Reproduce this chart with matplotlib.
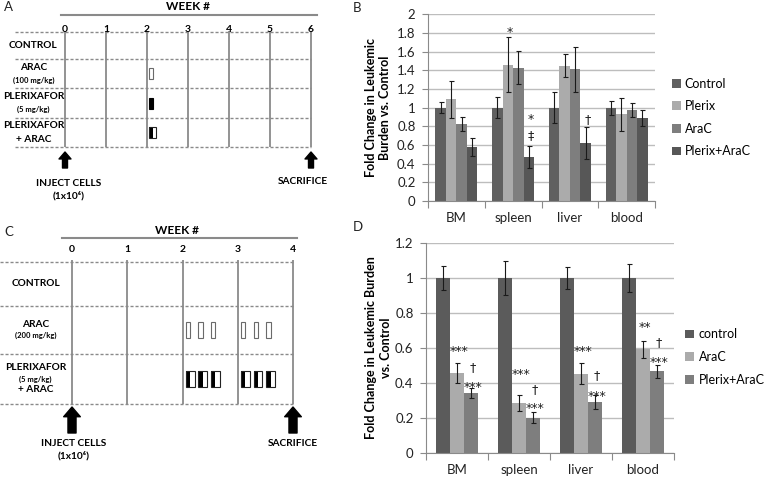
import matplotlib.pyplot as plt
from matplotlib.patches import Rectangle
import numpy as np

plt.rcParams['font.family'] = ['Lato', 'DejaVu Sans']

W, H = 767, 478

# schedule A (weeks, groups, dosing days after injection)
weeks_a = [0, 1, 2, 3, 4, 5, 6]
rows_a = [['CONTROL'], ['ARAC', '(100 mg/kg)'], ['PLERIXAFOR', '(5 mg/kg)'],
          ['PLERIXAFOR', '+ ARAC']]
treat_a = [None, 'arac', 'plerix', 'combo']
dose_days_a = [14.4]

# schedule C
weeks_c = [0, 1, 2, 3, 4]
rows_c = [['CONTROL'], ['ARAC', '(200 mg/kg)'], ['PLERIXAFOR', '(5 mg/kg)', '+ ARAC']]
treat_c = [None, 'arac', 'combo']
dose_days_c = [14.4, 16.0, 17.6, 21.4, 23.0, 24.6]

# panel B
organs = ['BM', 'spleen', 'liver', 'blood']
series_b = ['Control', 'Plerix', 'AraC', 'Plerix+AraC']
mean_b = [[1.0, 1.0, 1.0, 1.0],
          [1.09, 1.46, 1.45, 0.93],
          [0.82, 1.43, 1.41, 0.98],
          [0.58, 0.47, 0.62, 0.89]]
err_b = [[0.06, 0.115, 0.165, 0.075],
         [0.2, 0.295, 0.125, 0.175],
         [0.075, 0.175, 0.245, 0.075],
         [0.1, 0.12, 0.175, 0.09]]
# (organ, series, y, symbol)
marks_b = [(1, 1, 1.85, '*'), (1, 3, 0.91, '*'), (1, 3, 0.71, '‡'), (2, 3, 0.88, '†')]

# panel D
series_d = ['control', 'AraC', 'Plerix+AraC']
mean_d = [[1.0, 1.0, 1.0, 1.0],
          [0.457, 0.282, 0.45, 0.59],
          [0.341, 0.2, 0.288, 0.465]]
err_d = [[0.068, 0.096, 0.062, 0.081],
         [0.058, 0.046, 0.06, 0.05],
         [0.028, 0.032, 0.04, 0.038]]
marks_d = [(0, 1, 0.60, '***'), (0, 2, 0.486, '†'), (0, 2, 0.392, '***'),
           (1, 1, 0.467, '***'), (1, 2, 0.364, '†'), (1, 2, 0.272, '***'),
           (2, 1, 0.60, '***'), (2, 2, 0.442, '†'), (2, 2, 0.345, '***'),
           (3, 1, 0.735, '**'), (3, 2, 0.634, '†'), (3, 2, 0.535, '***')]

colors_b = ['#606060', '#ababab', '#7e7e7e', '#575757']
colors_d = ['#5b5b5b', '#ababab', '#7e7e7e']
grey = '#8a8a8a'

fig = plt.figure(figsize=(W / 100, H / 100), dpi=100)


def add_px_axes(x0, y0, x1, y1):
    return fig.add_axes([x0 / W, 1 - y1 / H, (x1 - x0) / W, (y1 - y0) / H])


def draw_schedule(ax, weeks, rows, treat, dose_days, lay):
    # x axis in weeks, y axis in pixels
    ax.axis('off')
    ax.text(lay['title_x'], lay['title_y'], 'WEEK #', ha='center', va='center',
            size=8.5, weight='bold')
    ax.plot(lay['line_x'], [lay['line_y']] * 2, color=grey, lw=1.5)
    edges = lay['edges']
    for w in weeks:
        ax.text(w, lay['num_y'], str(w), ha='center', va='center', size=7.5, weight='bold')
    ax.vlines(weeks, lay['vtop'], edges[-1], color=grey, lw=1.3)
    ax.hlines(edges, lay['dash_x0'], weeks[-1], color=grey, lw=1,
              linestyles=(0, (2.2, 1.4)))
    for i, lines in enumerate(rows):
        yc = (edges[i] + edges[i + 1]) / 2
        n = len(lines)
        for j, t in enumerate(lines):
            yy = yc + (j - (n - 1) / 2) * lay['lgap']
            ax.text(lay['label_x'], yy, t, ha='center', va='center', weight='bold',
                    size=5.5 if t.startswith('(') else 7.3)
        if treat[i] is None:
            continue
        bw = lay['box_w'] * (lay['combo_k'] if treat[i] == 'combo' else 1)
        bh = lay['box_h']
        for d in dose_days:
            x0 = d / 7
            y0 = yc - bh / 2
            if treat[i] == 'arac':
                ax.add_patch(Rectangle((x0, y0), bw, bh, fc='white', ec='#6a6a6a', lw=0.8))
            elif treat[i] == 'plerix':
                ax.add_patch(Rectangle((x0, y0), bw, bh, fc='black', ec='black', lw=0.8))
            else:
                ax.add_patch(Rectangle((x0, y0), bw / 2, bh, fc='black', lw=0))
                ax.add_patch(Rectangle((x0, y0), bw, bh, fill=False, ec='#222222', lw=0.8))
    style = 'simple,head_length=%g,head_width=%g,tail_width=%g' % lay['arrow']
    for w in [weeks[0], weeks[-1]]:
        ax.annotate('', xy=(w, lay['arrow_tip']), xytext=(w, lay['arrow_tail']),
                    arrowprops=dict(arrowstyle=style, mutation_scale=1, color='black',
                                    shrinkA=0, shrinkB=0))
    ax.text(lay['inject_x'], lay['inject_y'], 'INJECT CELLS', ha='center', va='center',
            size=7.3, weight='bold')
    ax.text(lay['inject_x'], lay['inject_y'] + 12.5, '(1x10⁶)', ha='center', va='center',
            size=7.3, weight='bold')
    ax.text(lay['sac_x'], lay['sac_y'], 'SACRIFICE', ha='center', va='center',
            size=7.3, weight='bold')


# panel A: week 0 at 65 px, 41 px per week
axA = add_px_axes(0, 0, 345, 215)
axA.set_xlim(-65 / 41, 280 / 41)
axA.set_ylim(215, 0)
draw_schedule(axA, weeks_a, rows_a, treat_a, dose_days_a, dict(
    title_x=3.0, title_y=6, line_x=[-0.1, 6.15], line_y=15, num_y=29.5, vtop=31,
    edges=[32, 59, 88, 118, 147], dash_x0=-1.22, label_x=-0.77, lgap=13,
    box_w=0.098, combo_k=1.75, box_h=11, arrow=(5, 8.6, 3.6), arrow_tip=152,
    arrow_tail=168, inject_x=0.1, inject_y=183.5, sac_x=5.8, sac_y=181))

# panel C: week 0 at 72 px, 55.25 px per week
axC = add_px_axes(0, 225, 345, 478)
axC.set_xlim(-72 / 55.25, 273 / 55.25)
axC.set_ylim(478, 225)
draw_schedule(axC, weeks_c, rows_c, treat_c, dose_days_c, dict(
    title_x=1.9, title_y=231, line_x=[-0.18, 4.07], line_y=238, num_y=250, vtop=260,
    edges=[262, 306, 354, 404], dash_x0=-1.3, label_x=-0.66, lgap=11,
    box_w=0.081, combo_k=2.0, box_h=16, arrow=(7, 12, 5.8), arrow_tip=407,
    arrow_tail=433, inject_x=0.03, inject_y=443.5, sac_x=3.99, sac_y=443.5))


def style_bars(ax, ymax):
    ax.set_xlim(-0.5, len(organs) - 0.5)
    ax.set_ylim(0, ymax)
    ticks = np.round(np.arange(0, ymax + 0.01, 0.2), 1)
    ax.set_yticks(ticks)
    ax.set_yticklabels(['%g' % t for t in ticks])
    ax.yaxis.grid(True, color='#bdbdbd', lw=1)
    ax.set_axisbelow(True)
    ax.set_xticks(np.arange(-0.5, len(organs)))
    ax.set_xticklabels([''] * (len(organs) + 1))
    ax.set_xticks(np.arange(len(organs)), minor=True)
    ax.set_xticklabels(organs, minor=True)
    ax.tick_params(axis='x', which='major', length=5, color=grey)
    ax.tick_params(axis='x', which='minor', length=0, pad=8, labelsize=9.5,
                   labelcolor='#222222')
    ax.tick_params(axis='y', length=4, pad=5, color=grey, labelsize=9.5,
                   labelcolor='#222222')
    for s in ['top', 'right']:
        ax.spines[s].set_visible(False)
    for s in ['left', 'bottom']:
        ax.spines[s].set_color(grey)


def add_marks(ax, marks, width, nser):
    for g, s, y, t in marks:
        x = g + (s - (nser - 1) / 2) * width
        dy = -5.3 if '*' in t else -2.8
        ax.annotate(t, (x, y), xytext=(1.5, dy), textcoords='offset points',
                    ha='center', va='baseline', size=9, color='#222222',
                    family='DejaVu Sans')


ekw = dict(ecolor='#1a1a1a', elinewidth=0.8, capsize=1.8, capthick=0.8)
x = np.arange(len(organs))

# panel B
axB = add_px_axes(428, 14.3, 655, 201)
wb = 0.185
for i, name in enumerate(series_b):
    axB.bar(x + (i - 1.5) * wb, mean_b[i], wb, yerr=err_b[i], color=colors_b[i],
            label=name, error_kw=ekw, zorder=2)
style_bars(axB, 2.0)
add_marks(axB, marks_b, wb, len(series_b))
axB.set_ylabel('Fold Change in Leukemic\nBurden vs. Control', size=9, weight='bold',
               linespacing=1.2)
axB.yaxis.set_label_coords(-0.163, 0.5)
axB.legend(loc='center left', bbox_to_anchor=(672 / W, 1 - 117.5 / H),
           bbox_transform=fig.transFigure, frameon=False, fontsize=9,
           handlelength=0.7, handleheight=0.7, handletextpad=0.3, labelspacing=0.85,
           borderpad=0, borderaxespad=0)

# panel D
axD = add_px_axes(426, 242.7, 674, 452.7)
wd = 0.224
for i, name in enumerate(series_d):
    axD.bar(x + (i - 1) * wd, mean_d[i], wd, yerr=err_d[i], color=colors_d[i],
            label=name, error_kw=ekw, zorder=2)
style_bars(axD, 1.2)
add_marks(axD, marks_d, wd, len(series_d))
axD.set_ylabel('Fold Change in Leukemic Burden\nvs. Control', size=9, weight='bold',
               linespacing=1.35)
axD.yaxis.set_label_coords(-0.137, 0.5)
axD.legend(loc='center left', bbox_to_anchor=(685 / W, 1 - 357 / H),
           bbox_transform=fig.transFigure, frameon=False, fontsize=9,
           handlelength=0.7, handleheight=0.7, handletextpad=0.4, labelspacing=0.85,
           borderpad=0, borderaxespad=0)

# panel letters
for t, px, py in [('A', 4, 7), ('B', 353, 8), ('C', 4, 232), ('D', 353, 227)]:
    fig.text(px / W, 1 - py / H, t, va='center', ha='left', size=9.5, color='#222222')

fig.savefig('out.png', dpi=100)
